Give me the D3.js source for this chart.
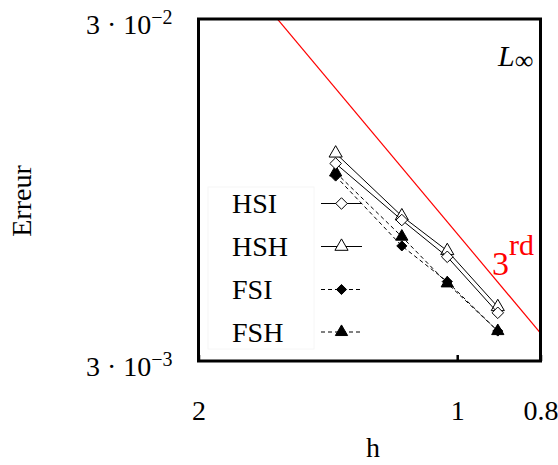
<!DOCTYPE html>
<html><head><meta charset="utf-8">
<script src="https://cdn.jsdelivr.net/npm/d3@7"></script>
<style>
html,body{margin:0;padding:0;background:#fff;}
svg text{font-family:"Liberation Serif","Times New Roman",serif !important;fill:#000;}
</style></head>
<body>
<svg id="chart" width="558" height="465"></svg>
<script>
const hValues = [1.385, 1.16, 1.027, 0.897];
const HSI = [0.01134, 0.00775, 0.00605, 0.00415];
const HSH = [0.01215, 0.00796, 0.0063, 0.00432];
const FSI = [0.01042, 0.00651, 0.00512, 0.00367];
const FSH = [0.01068, 0.00693, 0.00506, 0.00367];
const seriesNames = ["HSI", "HSH", "FSI", "FSH"];
const xTicks = [2, 1, 0.8];
const xTickLabels = ["2", "1", "0.8"];
const yTicks = [3e-3, 3e-2];
const yTickExp = ["\u22123", "\u22122"];
const refOrderC = 0.00707;   // E = C h^3
const refH = [2, 0.8];

const svg = d3.select("#chart");
const L = 198.5, R = 540.5, T = 19, B = 361;
const x = d3.scaleLog().domain([2, 0.8]).range([L, R]);
const y = d3.scaleLog().domain([3e-3, 3e-2]).range([B, T]);

svg.append("clipPath").attr("id","clip")
  .append("rect").attr("x",L).attr("y",T).attr("width",R-L).attr("height",B-T);

// reference 3rd order line
const refData = refH.map(h => [h, refOrderC*Math.pow(h,3)]);
svg.append("path").attr("clip-path","url(#clip)")
  .attr("d", d3.line().x(d=>x(d[0])).y(d=>y(d[1]))(refData))
  .attr("stroke","#ff0000").attr("stroke-width",1.2).attr("fill","none");

// x axis
const xAxis = d3.axisBottom(x).tickValues(xTicks).tickFormat((d,i)=>xTickLabels[i])
  .tickSizeInner(-6).tickSizeOuter(0).tickPadding(40);
const gx = svg.append("g").attr("transform",`translate(0,${B})`).call(xAxis);
gx.attr("font-family",null);
gx.select(".domain").remove();
gx.selectAll(".tick line").attr("stroke","#000").attr("stroke-width",2.5);
gx.selectAll(".tick text").attr("font-size",28).attr("dy",null).attr("y",59);

// y axis
const yAxis = d3.axisLeft(y).tickValues(yTicks).tickFormat("").tickSize(0);
const gy = svg.append("g").attr("transform",`translate(${L},0)`).call(yAxis);
gy.attr("font-family",null);
gy.select(".domain").remove();
gy.selectAll(".tick").each(function(d,i){
  const t = d3.select(this).append("text").attr("x",-26).attr("y",14)
    .attr("text-anchor","end").attr("font-size",28).attr("fill","#000");
  t.append("tspan").text("3 \u00b7 10");
  t.append("tspan").attr("font-size",20).attr("dy",-10).text(yTickExp[i]);
});

// frame
svg.append("rect").attr("x",L).attr("y",T).attr("width",R-L).attr("height",B-T)
  .attr("fill","none").attr("stroke","#000").attr("stroke-width",3);

// legend box
svg.append("rect").attr("x",208).attr("y",187).attr("width",106).attr("height",162)
  .attr("fill","#fff").attr("stroke","#f6f6f6").attr("stroke-width",1);

const diamond = d3.symbol().type(d3.symbolDiamond2);
const tri = d3.symbol().type(d3.symbolTriangle);
const styles = {
  HSI:{data:HSI, dash:null, sym:"diamond", fill:"#fff", size:85},
  HSH:{data:HSH, dash:null, sym:"tri", fill:"#fff", size:75},
  FSI:{data:FSI, dash:"4,3", sym:"diamond", fill:"#000", size:65},
  FSH:{data:FSH, dash:"4,3", sym:"tri", fill:"#000", size:65}
};
function drawSym(g, name, cx, cy){
  const s = styles[name];
  const p = s.sym==="diamond" ? diamond.size(s.size)() : tri.size(s.size)();
  g.append("path").attr("d",p).attr("transform",`translate(${cx},${cy})`)
    .attr("fill",s.fill).attr("stroke","#000").attr("stroke-width",1);
}
const line = d3.line().x((d,i)=>x(hValues[i])).y(d=>y(d));
["FSH","FSI","HSH","HSI"].forEach(name=>{
  const s = styles[name];
  const g = svg.append("g");
  g.append("path").attr("d",line(s.data)).attr("fill","none").attr("stroke","#000")
    .attr("stroke-width",1).attr("stroke-dasharray",s.dash);
  s.data.forEach((v,i)=>drawSym(g,name,x(hValues[i]),y(v)));
});

// legend entries
const legY = [203.5, 246.5, 289.5, 332];
seriesNames.forEach((name,i)=>{
  const s = styles[name];
  const g = svg.append("g");
  g.append("text").attr("x",232).attr("y",legY[i]+9.5).attr("font-size",28).text(name);
  g.append("line").attr("x1",321).attr("x2",362).attr("y1",legY[i]).attr("y2",legY[i])
    .attr("stroke","#000").attr("stroke-width",1).attr("stroke-dasharray",s.dash);
  drawSym(g,name,341.5,legY[i]);
});

// annotations
const lt = svg.append("text").attr("x",498).attr("y",66).attr("font-size",30);
lt.append("tspan").attr("font-style","italic").text("L");
lt.append("tspan").attr("font-size",26).attr("dy",3).text("\u221e");

const rd = svg.append("text").attr("x",492).attr("y",275).attr("font-size",34);
rd.append("tspan").style("fill","#ff0000").text("3");
rd.append("tspan").style("fill","#ff0000").attr("font-size",30).attr("dy",-20).text("rd");

// axis titles
svg.append("text").attr("x",373).attr("y",457).attr("text-anchor","middle").attr("font-size",28).text("h");
svg.append("text").attr("transform","translate(31,201) rotate(-90)").attr("text-anchor","middle")
  .attr("font-size",28).text("Erreur");
</script>
</body></html>
